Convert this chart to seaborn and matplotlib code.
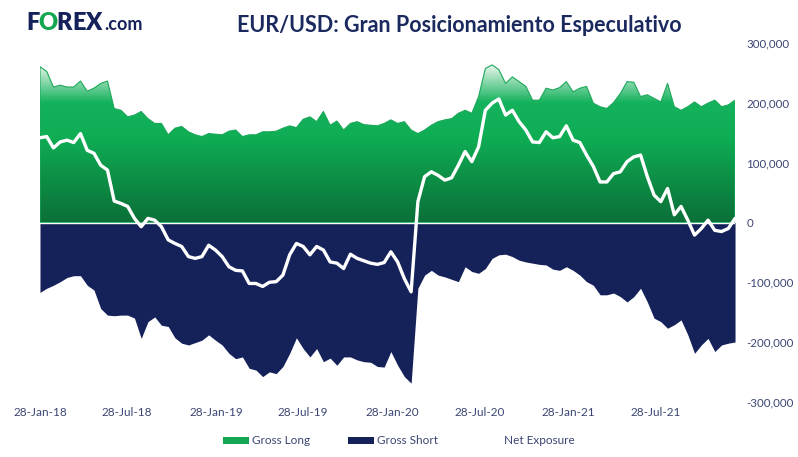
import numpy as np
import pandas as pd
import seaborn as sns
import matplotlib.pyplot as plt
import matplotlib.dates as mdates
from matplotlib.colors import LinearSegmentedColormap
from matplotlib.patches import Patch
from matplotlib.lines import Line2D
from matplotlib.ticker import FuncFormatter

# fortnightly readings, thousands of contracts
dates = pd.date_range("2018-01-28", periods=104, freq="14D")

gross_long = [
    261, 253, 227, 230, 227, 227, 237, 220, 225, 233, 237, 191, 188, 177, 180, 186,
    174, 166, 166, 147, 158, 161, 152, 147, 144, 149, 148, 147, 153, 155, 144, 147,
    147, 152, 152, 153, 158, 162, 159, 173, 177, 169, 186, 163, 170, 155, 166, 169,
    164, 163, 162, 166, 172, 166, 169, 155, 149, 155, 163, 169, 172, 174, 183, 188,
    183, 211, 258, 264, 256, 233, 244, 236, 228, 205, 205, 225, 222, 226, 236, 219,
    225, 228, 200, 194, 191, 201, 216, 236, 235, 211, 214, 208, 202, 233, 194, 188,
    194, 202, 194, 200, 205, 194, 197, 205,
]
gross_short = [
    -117, -110, -105, -99, -92, -89, -89, -105, -113, -144, -155, -156, -155, -155, -160, -194,
    -166, -158, -172, -174, -193, -202, -205, -201, -197, -188, -197, -205, -219, -228, -225, -244,
    -247, -258, -250, -253, -241, -219, -193, -211, -225, -211, -233, -227, -239, -225, -225, -230,
    -233, -234, -241, -242, -216, -239, -258, -269, -110, -88, -80, -88, -91, -95, -99, -74,
    -82, -85, -77, -60, -54, -53, -57, -63, -66, -68, -70, -71, -78, -80, -74, -80,
    -88, -99, -105, -121, -121, -118, -124, -133, -124, -110, -133, -160, -166, -177, -171, -163,
    -188, -219, -205, -194, -216, -205, -202, -200,
]
net_exposure = [
    142, 144, 125, 135, 138, 134, 149, 121, 116, 96, 88, 36, 32, 27, 7, -7,
    7, 4, -7, -29, -35, -40, -57, -60, -57, -38, -46, -57, -74, -80, -81, -102,
    -102, -107, -100, -99, -88, -54, -35, -40, -54, -40, -46, -66, -68, -77, -53, -60,
    -64, -68, -70, -67, -49, -66, -94, -116, 35, 77, 85, 79, 71, 75, 96, 119,
    102, 127, 188, 200, 207, 180, 188, 169, 155, 135, 134, 152, 142, 144, 162, 138,
    134, 113, 94, 68, 68, 82, 85, 102, 110, 113, 77, 46, 35, 57, 13, 27,
    4, -21, -10, 4, -13, -15, -10, 7,
]
tick_dates = ["2018-01-28", "2018-07-28", "2019-01-28", "2019-07-28",
              "2020-01-28", "2020-07-28", "2021-01-28", "2021-07-28"]

df = pd.DataFrame({
    "date": dates,
    "long": np.array(gross_long) * 1000,
    "short": np.array(gross_short) * 1000,
    "net": np.array(net_exposure) * 1000,
})

NAVY = "#15225A"
TEXT = "#3B4573"

sns.set_theme(style="white")
plt.rcParams["font.family"] = ["Lato", "DejaVu Sans"]

fig = plt.figure(figsize=(7.98, 4.57), dpi=100)
ax = fig.add_axes([0.0501, 0.121, 0.871, 0.784])

# gross long: gradient clipped to the area
poly = ax.fill_between(df["date"], 0, df["long"], facecolor="none",
                       edgecolor="#1DA85A", lw=0.8, zorder=2)
cmap = LinearSegmentedColormap.from_list(
    "g", [(0, "#0B6F37"), (0.55, "#0FAE55"), (0.76, "#14B25C"), (1.0, "#ECF7EF")])
x0, x1 = mdates.date2num(dates[0]), mdates.date2num(dates[-1])
grad = np.linspace(0, 1, 256).reshape(-1, 1)
im = ax.imshow(grad, extent=[x0, x1, 0, 265000], origin="lower", cmap=cmap,
               aspect="auto", zorder=1)
im.set_clip_path(poly.get_paths()[0], transform=ax.transData)

# gross short
ax.fill_between(df["date"], 0, df["short"], color=NAVY, lw=0, zorder=1)
ax.axhline(0, color="white", lw=1, zorder=3)

# net exposure
sns.lineplot(data=df, x="date", y="net", color="white", lw=2.4, ax=ax, zorder=4)

ax.set_xlim(x0, x1)
ax.set_ylim(-300000, 300000)
ax.set_xticks(pd.to_datetime(tick_dates))
ax.xaxis.set_major_formatter(mdates.DateFormatter("%d-%b-%y"))
ax.yaxis.tick_right()
ax.set_yticks(range(-300000, 300001, 100000))
ax.yaxis.set_major_formatter(FuncFormatter(lambda v, p: f"{v:,.0f}"))
ax.tick_params(axis="x", length=0, labelsize=8.5, colors=TEXT, pad=4)
ax.tick_params(axis="y", length=0, labelsize=8.3, colors=TEXT, pad=8)
for lab in ax.get_yticklabels():
    lab.set_ha("left")
ax.set_xlabel("")
ax.set_ylabel("")
for s in ax.spines.values():
    s.set_visible(False)
ax.grid(False)

# title and logo
fig.text(0.575, 1 - 25 / 457, "EUR/USD: Gran Posicionamiento Especulativo",
         ha="center", va="center", fontsize=15.5, fontweight="bold", color="#1B2A5E")
ly = 1 - 23 / 457
for letter, px, col in [("F", 26, NAVY), ("O", 38, "#12A650"), ("R", 56, NAVY),
                        ("E", 72, NAVY), ("X", 85.5, NAVY)]:
    fig.text(px / 798, ly, letter, ha="left", va="center", fontsize=17,
             fontweight="heavy", color=col)
fig.text(104 / 798, 1 - 24 / 457, ".com", ha="left", va="center", fontsize=13,
         fontweight="bold", color=NAVY)

handles = [Patch(facecolor="#13A653", edgecolor="none"),
           Patch(facecolor=NAVY, edgecolor="none"),
           Line2D([], [], color="white", lw=2)]
fig.legend(handles, ["Gross Long", "Gross Short", "Net Exposure"],
           loc="center", bbox_to_anchor=(0.5, 1 - 441 / 457), ncol=3, frameon=False,
           fontsize=8.5, labelcolor=TEXT, handlelength=2.2, handleheight=0.55,
           handletextpad=0.25, columnspacing=3.2)

fig.savefig("out.png", dpi=100, facecolor="white")
